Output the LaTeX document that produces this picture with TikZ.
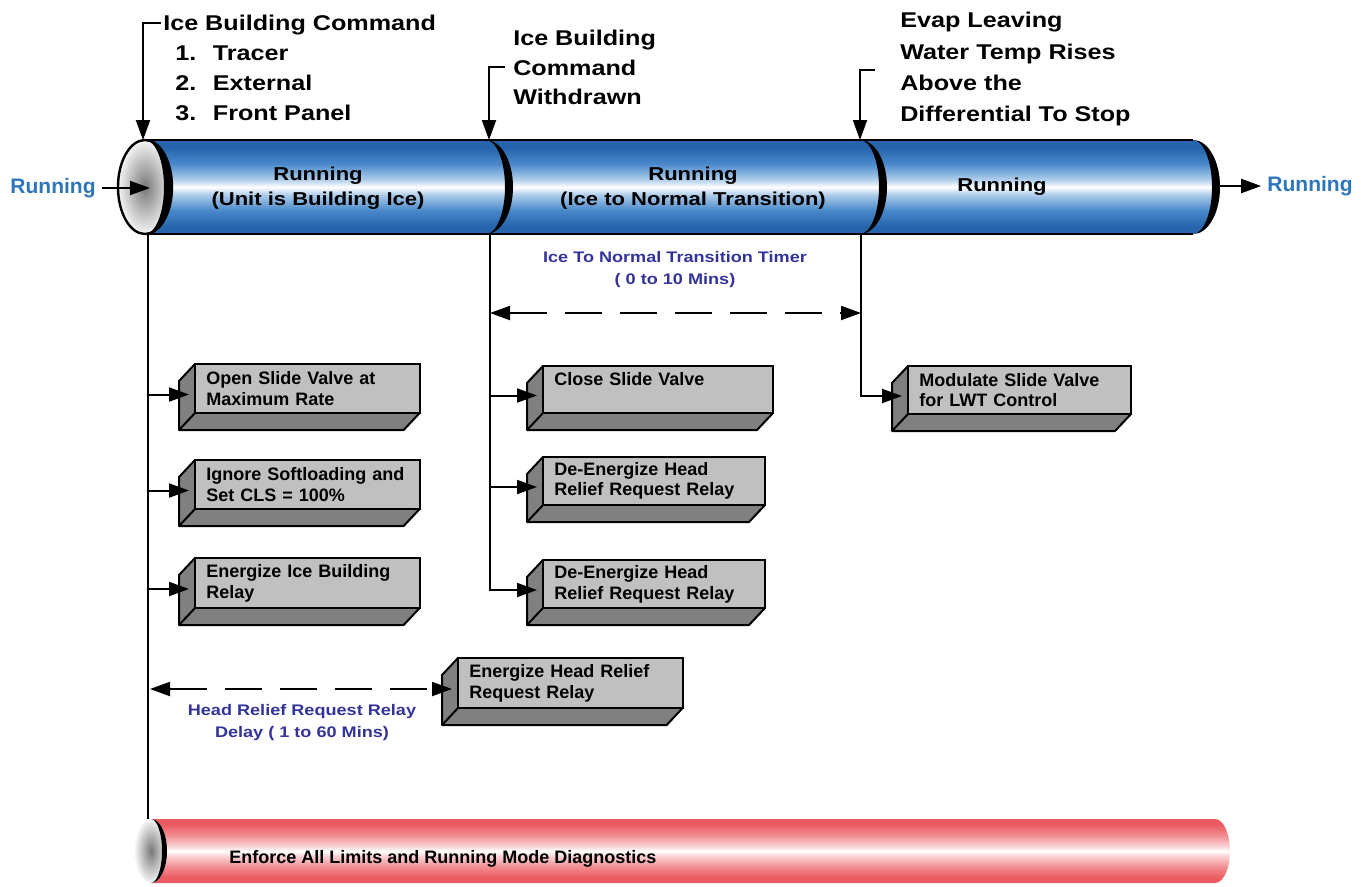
\documentclass[tikz,border=0pt]{standalone}
\usepackage{fontspec}
\setmainfont{Liberation Sans}
\newfontfamily\widefont{Liberation Sans}[FakeStretch=1.18]
\usetikzlibrary{arrows.meta,calc,backgrounds}
\definecolor{boxgray}{RGB}{192,192,192}
\definecolor{sidegray}{RGB}{128,128,128}
\definecolor{runblue}{RGB}{46,117,186}
\definecolor{lblblue}{RGB}{51,51,153}
\definecolor{tubeA}{RGB}{38,100,172}
\definecolor{tubeB}{RGB}{72,136,202}
\definecolor{tubeC}{RGB}{175,205,235}
\definecolor{redA}{RGB}{234,90,96}
\definecolor{redB}{RGB}{242,140,144}
\definecolor{redC}{RGB}{250,210,212}
\definecolor{capdark}{RGB}{120,120,120}
\definecolor{caplight}{RGB}{245,245,245}
\pgfdeclareverticalshading{bluetube}{100bp}{color(0bp)=(tubeA); color(25bp)=(tubeA); color(29bp)=(tubeA); color(37.5bp)=(tubeB); color(46bp)=(tubeC); color(50bp)=(white); color(54bp)=(tubeC); color(62.5bp)=(tubeB); color(71bp)=(tubeA); color(75bp)=(tubeA); color(100bp)=(tubeA)}
\pgfdeclareverticalshading{redtube}{100bp}{color(0bp)=(redA); color(25bp)=(redA); color(29bp)=(redA); color(37.5bp)=(redB); color(46bp)=(redC); color(50bp)=(white); color(54bp)=(redC); color(62.5bp)=(redB); color(71bp)=(redA); color(75bp)=(redA); color(100bp)=(redA)}
\newcommand\boxsides[1]{%
  \begin{pgfonlayer}{background}
    \filldraw[sideface] (#1.north west) -- ++(-16,17) -- ($(#1.south west)+(-16,17)$) -- ($(#1.south east)+(-16,17)$) -- (#1.south east) -- cycle;
  \end{pgfonlayer}
  \draw[sideface,fill=none] (#1.south west) -- ++(-16,17);}
\begin{document}
\begin{tikzpicture}[x=0.75pt, y=-0.75pt,
  conn/.style={line width=1.5pt},
  arr/.style={line width=1.5pt, -{Triangle[length=15pt,width=10.5pt]}},
  dasharr/.style={line width=1.5pt, dash pattern=on 27.75pt off 13.5pt, {Triangle[length=15pt,width=10.5pt]}-{Triangle[length=15pt,width=10.5pt]}},
  frontface/.style={draw=black, line width=1.5pt, fill=boxgray, anchor=north west, outer sep=0pt, inner xsep=8.5pt, inner ysep=0pt, align=left, font={\bfseries\fontsize{13.5}{15.5}\selectfont}},
  sideface/.style={draw=black, line width=1.5pt, fill=sidegray, line join=round},
  headtext/.style={anchor=north west, inner sep=0pt, align=left},
  tubetext/.style={align=center, inner sep=0pt, font={\widefont\bfseries\fontsize{14}{18.75}\selectfont}},
  bluelbl/.style={align=center, inner sep=0pt, text=lblblue, font={\widefont\bfseries\fontsize{11.5}{16.5}\selectfont}},
  runlbl/.style={text=runblue, inner sep=4.5pt, font={\bfseries\fontsize{15.75}{18}\selectfont}}]
\useasboundingbox (0,0) rectangle (1369,886);

% ---- blue tube ----
\shade[shading=bluetube] (145,140) -- (1193,140) arc[start angle=-90,end angle=90,x radius=27,y radius=47] -- (145,234) -- cycle;
\draw[line width=2.2pt] (145,140) -- (1193,140) (145,234) -- (1193,234);
\foreach \cx in {486,860,1193}
  \fill (\cx,140) arc[start angle=-90,end angle=90,x radius=27,y radius=47] arc[start angle=90,end angle=-90,x radius=19,y radius=47] -- cycle;
\shade[inner color=capdark, outer color=caplight] (145,187) ellipse [x radius=27, y radius=47];
\draw[line width=1.8pt] (145,187) ellipse [x radius=27, y radius=47];
\fill (145,140) arc[start angle=-90,end angle=90,x radius=27,y radius=47] arc[start angle=90,end angle=-90,x radius=19,y radius=47] -- cycle;

% ---- red tube ----
\shade[shading=redtube] (151,819) -- (1215,819) arc[start angle=-90,end angle=90,x radius=15,y radius=32] -- (151,883) -- cycle;
\shade[inner color=capdark, outer color=caplight] (151,851) ellipse [x radius=16, y radius=32];
\fill (151,819) arc[start angle=-90,end angle=90,x radius=16,y radius=32] arc[start angle=90,end angle=-90,x radius=11,y radius=32] -- cycle;
\node[anchor=base west, inner sep=0pt, font={\bfseries\fontsize{13.5}{16}\selectfont}] (enf) at (229,863) {Enforce All Limits and Running Mode Diagnostics};

% ---- tube texts ----
\node[tubetext] (t1) at (318,188) {Running\\(Unit is Building Ice)};
\node[tubetext] (t2) at (693,188) {Running\\(Ice to Normal Transition)};
\node[tubetext] (t3) at (1002,187) {Running};
\node[runlbl] (lrun) at (53,188) {Running};
\node[runlbl] (rrun) at (1310,186) {Running};

% ---- headings ----
\node[headtext, font={\widefont\bfseries\fontsize{16}{22.5}\selectfont}] (h1) at (163,15)
  {Ice Building Command\\\hspace*{9pt}1.\hspace{12.5pt}Tracer\\\hspace*{9pt}2.\hspace{12.5pt}External\\\hspace*{9pt}3.\hspace{12.5pt}Front Panel};
\node[headtext, font={\widefont\bfseries\fontsize{16}{22}\selectfont}] (h2) at (513,30)
  {Ice Building\\Command\\Withdrawn};
\node[headtext, font={\widefont\bfseries\fontsize{16}{23.5}\selectfont}] (h3) at (900,12)
  {Evap Leaving\\Water Temp Rises\\Above the\\Differential To Stop};

% ---- coordinates ----
\coordinate (c1) at (143,140); \coordinate (k1) at (161,23);
\coordinate (c2) at (489,140); \coordinate (k2) at (505,67);
\coordinate (c3) at (860,140); \coordinate (k3) at (875,70);
\coordinate (capc) at (150,187); \coordinate (rend) at (1220,186);
\coordinate (v1a) at (148,234); \coordinate (v1b) at (148,819);
\coordinate (v2a) at (490,234); \coordinate (v3a) at (861,234);
\coordinate (tm1) at (490,313); \coordinate (tm2) at (861,313);

% ---- boxes ----
\node[frontface, text width=151.5pt, minimum height=36.75pt] (bA) at (195,364) {Open Slide Valve at\\Maximum Rate};
\node[frontface, text width=151.5pt, minimum height=36.75pt] (bB) at (195,460) {Ignore Softloading and\\Set CLS = 100\%};
\node[frontface, text width=151.5pt, minimum height=37.5pt] (bC) at (195,558) {Energize Ice Building\\Relay};
\node[frontface, text width=151.5pt, minimum height=37.5pt] (bD) at (458,658) {Energize Head Relief\\Request Relay};
\node[frontface, text width=155.5pt, minimum height=35.25pt] (bE) at (543,366) {Close Slide Valve\\\mbox{}};
\node[frontface, text width=149.5pt, minimum height=36pt] (bF) at (543,457) {De-Energize Head\\Relief Request Relay};
\node[frontface, text width=149.5pt, minimum height=36pt] (bG) at (543,560) {De-Energize Head\\Relief Request Relay};
\node[frontface, text width=150.25pt, minimum height=36pt] (bH) at (908,366) {Modulate Slide Valve\\for LWT Control};
\boxsides{bA}\boxsides{bB}\boxsides{bC}\boxsides{bD}
\boxsides{bE}\boxsides{bF}\boxsides{bG}\boxsides{bH}

% ---- connectors ----
\draw[arr] (k1) -| (c1);
\draw[arr] (k2) -| (c2);
\draw[arr] (k3) -| (c3);
\draw[arr] (lrun.east) -- (lrun.east -| capc);
\draw[arr] (rend) -- (rend -| rrun.west);
\draw[conn] (v1a) -- (v1b);
\draw[arr] ($(bA.west -| v1a)+(0,6)$) -- ($(bA.west)+(-6,6)$);
\draw[arr] ($(bB.west -| v1a)+(0,6)$) -- ($(bB.west)+(-6,6)$);
\draw[arr] ($(bC.west -| v1a)+(0,6)$) -- ($(bC.west)+(-6,6)$);
\draw[arr] (v2a) |- ($(bG.west)+(-6,6)$);
\draw[arr] ($(bE.west -| v2a)+(0,6)$) -- ($(bE.west)+(-6,6)$);
\draw[arr] ($(bF.west -| v2a)+(0,6)$) -- ($(bF.west)+(-6,6)$);
\draw[arr] (v3a) |- ($(bH.west)+(-6,6)$);
\draw[dasharr] (tm1) -- (tm2);
\draw[dasharr] ($(bD.west -| v1a)+(2,6)$) -- ($(bD.west)+(-6,6)$);

% ---- blue labels ----
\node[bluelbl] (tl) at (675,270) {Ice To Normal Transition Timer\\( 0 to 10 Mins)};
\node[bluelbl] (hl) at (302,723) {Head Relief Request Relay\\Delay ( 1 to 60 Mins)};
\end{tikzpicture}
\end{document}
